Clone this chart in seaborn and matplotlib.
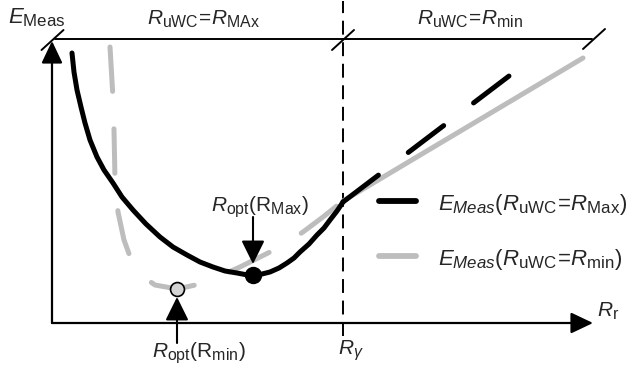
import matplotlib
matplotlib.use("Agg")
import matplotlib.pyplot as plt
import matplotlib._mathtext as mathtext_core
import pandas as pd
import seaborn as sns

# E_Meas versus R_r for the two u-WC resistances (schematic units)
R_GAMMA = 2.91

rmax_r_solid = [0.20, 0.22, 0.25, 0.29, 0.33, 0.38, 0.45, 0.52, 0.61, 0.70, 0.81,
                0.94, 1.08, 1.21, 1.35, 1.48, 1.61, 1.73, 1.85, 1.93, 2.01, 2.10,
                2.18, 2.27, 2.35, 2.42, 2.48, 2.57, 2.65, 2.72, 2.78, 2.85, 2.91]
rmax_e_solid = [2.70, 2.51, 2.33, 2.16, 2.00, 1.83, 1.66, 1.53, 1.40, 1.26, 1.13,
                0.99, 0.86, 0.76, 0.68, 0.61, 0.56, 0.52, 0.50, 0.485, 0.48, 0.49,
                0.51, 0.55, 0.60, 0.65, 0.71, 0.79, 0.88, 0.95, 1.03, 1.12, 1.21]
rmax_r_dash = [2.91, 4.61]
rmax_e_dash = [1.21, 2.50]

rmin_r_dash = [0.58, 0.61, 0.62, 0.63, 0.66, 0.72, 0.80, 0.90, 1.03, 1.25, 1.48,
               1.68, 1.88, 2.08, 2.28, 2.51, 2.71, 2.91]
rmin_e_dash = [2.76, 2.25, 1.93, 1.43, 1.11, 0.83, 0.61, 0.47, 0.38, 0.34, 0.39,
               0.47, 0.56, 0.66, 0.76, 0.91, 1.06, 1.22]
rmin_r_solid = [2.91, 5.31]
rmin_e_solid = [1.22, 2.65]

opt_max = (2.01, 0.48)
opt_min = (1.25, 0.34)

x_axis_end = 5.41
y_axis_end = 2.82
top_level = 2.84

label_e = r"$E_{\mathrm{Meas}}$"
label_left = r"$R_{\mathrm{uWC}}\!=\!R_{\mathrm{MAx}}$"
label_right = r"$R_{\mathrm{uWC}}\!=\!R_{\mathrm{min}}$"
label_opt_max = r"$R_{\mathrm{opt}}\mathrm{(R}_{\mathrm{Max}}\mathrm{)}$"
label_opt_min = r"$R_{\mathrm{opt}}\mathrm{(R}_{\mathrm{min}}\mathrm{)}$"
label_rr = r"$R_{\mathrm{r}}$"
label_rg = r"$R_{\gamma}$"
legend_labels = [r"$E_{Meas}(R_{\mathrm{uWC}}\!=\!R_{\mathrm{Max}})$",
                 r"$E_{Meas}(R_{\mathrm{uWC}}\!=\!R_{\mathrm{min}})$"]

sns.set_theme(style="white")
plt.rcParams.update({
    "lines.scale_dashes": False,
    "mathtext.fontset": "custom",
    "mathtext.rm": "Liberation Sans",
    "mathtext.it": "Liberation Sans:italic",
    "mathtext.bf": "Liberation Sans:bold",
})
plt.rcParams["font.family"] = ["Liberation Sans", "DejaVu Sans"]
# slightly larger subscripts than the mathtext default
mathtext_core.SHRINK_FACTOR = 0.76

BLACK = "#000000"
GREY = "#bdbdbd"
LW = 3.6
DASH = (32, 27)

fig = plt.figure(figsize=(6.34, 3.76), dpi=100)
ax = fig.add_axes([0, 0, 1, 1])
ax.set_xlim(-0.52, 5.82)
ax.set_ylim(-0.53, 3.23)
ax.axis("off")


def curve(xs, ys, color, dashed, z):
    df = pd.DataFrame({"R": xs, "E": ys})
    sns.lineplot(data=df, x="R", y="E", sort=False, estimator=None, ax=ax,
                 color=color, lw=LW, zorder=z)
    line = ax.lines[-1]
    line.set_solid_capstyle("round")
    line.set_solid_joinstyle("round")
    line.set_dash_capstyle("round")
    line.set_dash_joinstyle("round")
    if dashed:
        line.set_dashes(DASH)
    return line


# grey curve first so black sits on top
curve(rmin_r_dash, rmin_e_dash, GREY, True, 3)
curve(rmin_r_solid, rmin_e_solid, GREY, False, 3)
curve(rmax_r_solid, rmax_e_solid, BLACK, False, 4)
curve(rmax_r_dash, rmax_e_dash, BLACK, True, 4)

# axes with arrow heads
axis_arrow = dict(arrowstyle="-|>,head_length=0.8,head_width=0.38",
                  mutation_scale=17, lw=1.6, color="black",
                  shrinkA=0, shrinkB=0)
ax.annotate("", xy=(x_axis_end, 0), xytext=(0, 0), arrowprops=axis_arrow, zorder=5)
ax.annotate("", xy=(0, y_axis_end), xytext=(0, 0), arrowprops=axis_arrow, zorder=5)

# region bar along the top with break marks
ax.plot([0.03, 5.40], [top_level, top_level], color="black", lw=1.4, zorder=5)
for cx, cy in [(0.005, 2.83), (R_GAMMA, 2.83), (5.42, 2.84)]:
    ax.plot([cx - 0.11, cx + 0.11], [cy - 0.10, cy + 0.10], color="black",
            lw=1.4, zorder=5)

# R_gamma boundary
ax.plot([R_GAMMA, R_GAMMA], [-0.13, 3.22], color="black", lw=1.4,
        dashes=(10, 5.5), zorder=2)

# optimum markers
ax.plot(*opt_max, marker="o", ms=11.5, color="black", zorder=6)
ax.plot(*opt_min, marker="o", ms=10, mfc="#d4d4d4", mec="black", mew=1.2, zorder=6)

pointer = dict(arrowstyle="-|>,head_length=0.85,head_width=0.42",
               mutation_scale=17, lw=1.5, color="black", shrinkA=0, shrinkB=0)
ax.annotate("", xy=(opt_max[0], 0.59), xytext=(opt_max[0], 1.06),
            arrowprops=pointer, zorder=7)
ax.annotate("", xy=(opt_min[0], 0.26), xytext=(opt_min[0], -0.20),
            arrowprops=pointer, zorder=7)

FS = 15
FS_KEY = 16
ax.text(-0.44, 3.00, label_e, fontsize=16, ha="left", va="baseline")
ax.text(1.51, 2.98, label_left, fontsize=FS, ha="center", va="baseline")
ax.text(4.18, 2.98, label_right, fontsize=FS, ha="center", va="baseline")
ax.text(2.08, 1.11, label_opt_max, fontsize=FS, ha="center", va="baseline")
ax.text(1.47, -0.35, label_opt_min, fontsize=FS, ha="center", va="baseline")
ax.text(5.45, 0.06, label_rr, fontsize=FS, ha="left", va="baseline")
ax.text(2.86, -0.32, label_rg, fontsize=FS, ha="left", va="baseline")

# key
key_colors = [BLACK, GREY]
key_y = [1.22, 0.67]
for col, yy, lab in zip(key_colors, key_y, legend_labels):
    ln, = ax.plot([3.27, 3.64], [yy, yy], color=col, lw=4.2, zorder=5)
    ln.set_solid_capstyle("round")
    ax.text(3.86, yy - 0.09, lab, fontsize=FS_KEY, ha="left", va="baseline")

fig.savefig("out.png", dpi=100)
